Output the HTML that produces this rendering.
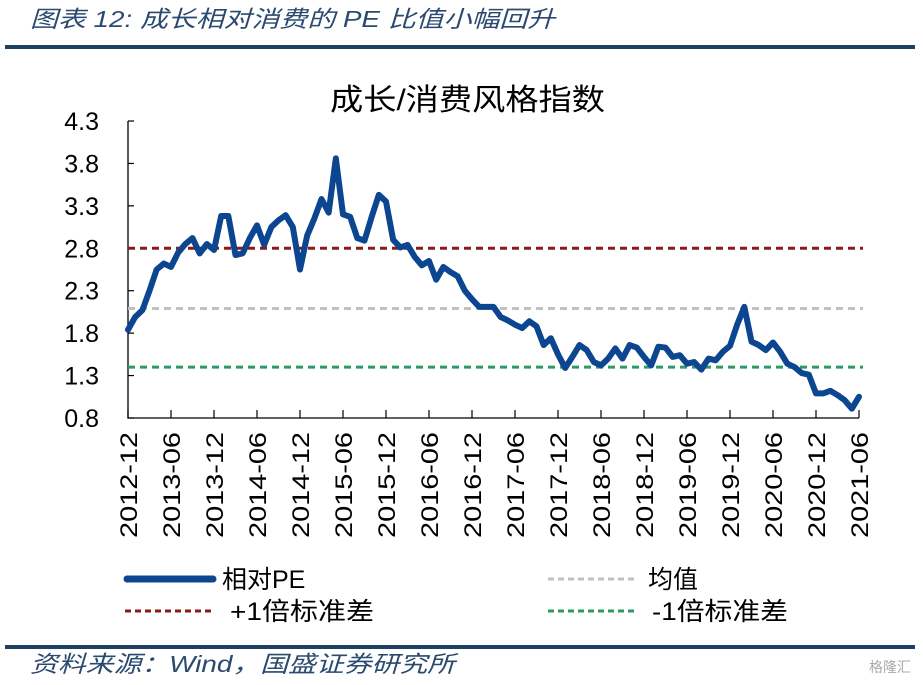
<!DOCTYPE html>
<html><head><meta charset="utf-8">
<style>
body{margin:0;background:#fff;width:923px;height:685px;overflow:hidden;font-family:"Liberation Sans","Noto Sans CJK SC",sans-serif;}
svg{display:block}
</style></head><body>
<svg id="chart" width="923" height="685">
<text x="30" y="27" font-size="23" font-style="italic" fill="#2b4a70" textLength="525" lengthAdjust="spacingAndGlyphs">图表 12:  成长相对消费的 PE 比值小幅回升</text>
<rect x="5" y="45" width="910" height="4" fill="#1f3f63"/>
<text x="330" y="110" font-size="30" textLength="275" lengthAdjust="spacingAndGlyphs" fill="#000">成长/消费风格指数</text>
<g id="plot"></g>
<g>
<line x1="127" y1="579" x2="213" y2="579" stroke="#0c4590" stroke-width="7" stroke-linecap="round"/>
<text x="222" y="588" font-size="25">相对PE</text>
<line x1="548" y1="579" x2="636" y2="579" stroke="#c0c0c0" stroke-width="3" stroke-dasharray="6,4"/>
<text x="648" y="588" font-size="25">均值</text>
<line x1="125" y1="611" x2="214" y2="611" stroke="#8b1a1a" stroke-width="3" stroke-dasharray="6,4"/>
<text x="230" y="620" font-size="25" textLength="144" lengthAdjust="spacingAndGlyphs">+1倍标准差</text>
<line x1="548" y1="611" x2="636" y2="611" stroke="#2e9a64" stroke-width="3" stroke-dasharray="6,4"/>
<text x="652" y="620" font-size="25" textLength="136" lengthAdjust="spacingAndGlyphs">-1倍标准差</text>
</g>
<rect x="5" y="645" width="910" height="4" fill="#1f3f63"/>
<text x="30" y="672" font-size="23" font-style="italic" fill="#2b4a70" textLength="425" lengthAdjust="spacingAndGlyphs">资料来源：Wind，国盛证券研究所</text>
<text x="890" y="672" font-size="14" fill="#aaa" text-anchor="middle">格隆汇</text>
</svg>
<script>
const values=[1.84,1.99,2.07,2.30,2.55,2.62,2.58,2.75,2.85,2.92,2.74,2.85,2.78,3.18,3.18,2.72,2.74,2.92,3.07,2.84,3.05,3.13,3.19,3.05,2.55,2.95,3.15,3.38,3.22,3.86,3.20,3.17,2.92,2.89,3.17,3.43,3.35,2.90,2.81,2.84,2.70,2.60,2.65,2.43,2.58,2.52,2.47,2.30,2.20,2.11,2.11,2.11,1.99,1.95,1.90,1.86,1.94,1.88,1.66,1.74,1.55,1.39,1.52,1.66,1.60,1.46,1.42,1.50,1.62,1.50,1.66,1.63,1.52,1.42,1.64,1.63,1.52,1.54,1.44,1.46,1.37,1.50,1.48,1.58,1.65,1.90,2.11,1.70,1.66,1.60,1.69,1.58,1.44,1.40,1.33,1.31,1.09,1.09,1.12,1.07,1.01,0.91,1.05];
const meanValue=[2.09];
const plusSd=[2.80];
const minusSd=[1.40];
const yTicks=[0.8,1.3,1.8,2.3,2.8,3.3,3.8,4.3];
const xTickLabels=["2012-12","2013-06","2013-12","2014-06","2014-12","2015-06","2015-12","2016-06","2016-12","2017-06","2017-12","2018-06","2018-12","2019-06","2019-12","2020-06","2020-12","2021-06"];

const NS="http://www.w3.org/2000/svg";
const g=document.getElementById('plot');
const X0=128,X1=859,Y0=418,Y1=121,YMIN=0.8,YMAX=4.3;
const nMonths=values.length-1;
const xs=i=>X0+(X1-X0)*i/nMonths;
const ys=v=>Y0-(v-YMIN)/(YMAX-YMIN)*(Y0-Y1);
function mk(tag,attrs){const e=document.createElementNS(NS,tag);for(const k in attrs)e.setAttribute(k,attrs[k]);g.appendChild(e);return e;}

const ax=mk('path',{d:`M${X0} ${Y1}V${Y0}H${X1}`,stroke:'#000','stroke-width':1.3,fill:'none'});


yTicks.forEach(t=>{
  const y=ys(t);
  const tk=mk('line',{x1:X0,x2:X0+6,y1:y,y2:y,stroke:'#000','stroke-width':1.2});
  
  
  const tx=mk('text',{x:99,y:y+9,'font-size':25,'text-anchor':'end'});
  tx.textContent=t.toFixed(1);
  
  
});
xTickLabels.forEach((l,k)=>{
  const x=xs(k*6);
  const tk=mk('line',{x1:x,x2:x,y1:Y0,y2:Y0-8,stroke:'#000','stroke-width':1.2});
  
  
  const tx=mk('text',{x:0,y:0,'font-size':24,'text-anchor':'end',textLength:106,lengthAdjust:'spacingAndGlyphs',transform:`translate(${x+9},${Y0+14}) rotate(-90)`});
  tx.textContent=l;
  
  
});
[[meanValue[0],'#c0c0c0','mean-line'],[plusSd[0],'#8b1a1a','plus-sd-line'],[minusSd[0],'#2e9a64','minus-sd-line']].forEach(([v,c,n])=>{
  const ln=mk('line',{x1:X0,x2:X1+4,y1:ys(v),y2:ys(v),stroke:c,'stroke-width':3,'stroke-dasharray':'7,5'});
  
  
});
const pe=mk('polyline',{points:values.map((v,i)=>xs(i)+','+ys(v)).join(' '),fill:'none',stroke:'#0c4590','stroke-width':6,'stroke-linejoin':'round','stroke-linecap':'round'});


</script>
</body></html>
